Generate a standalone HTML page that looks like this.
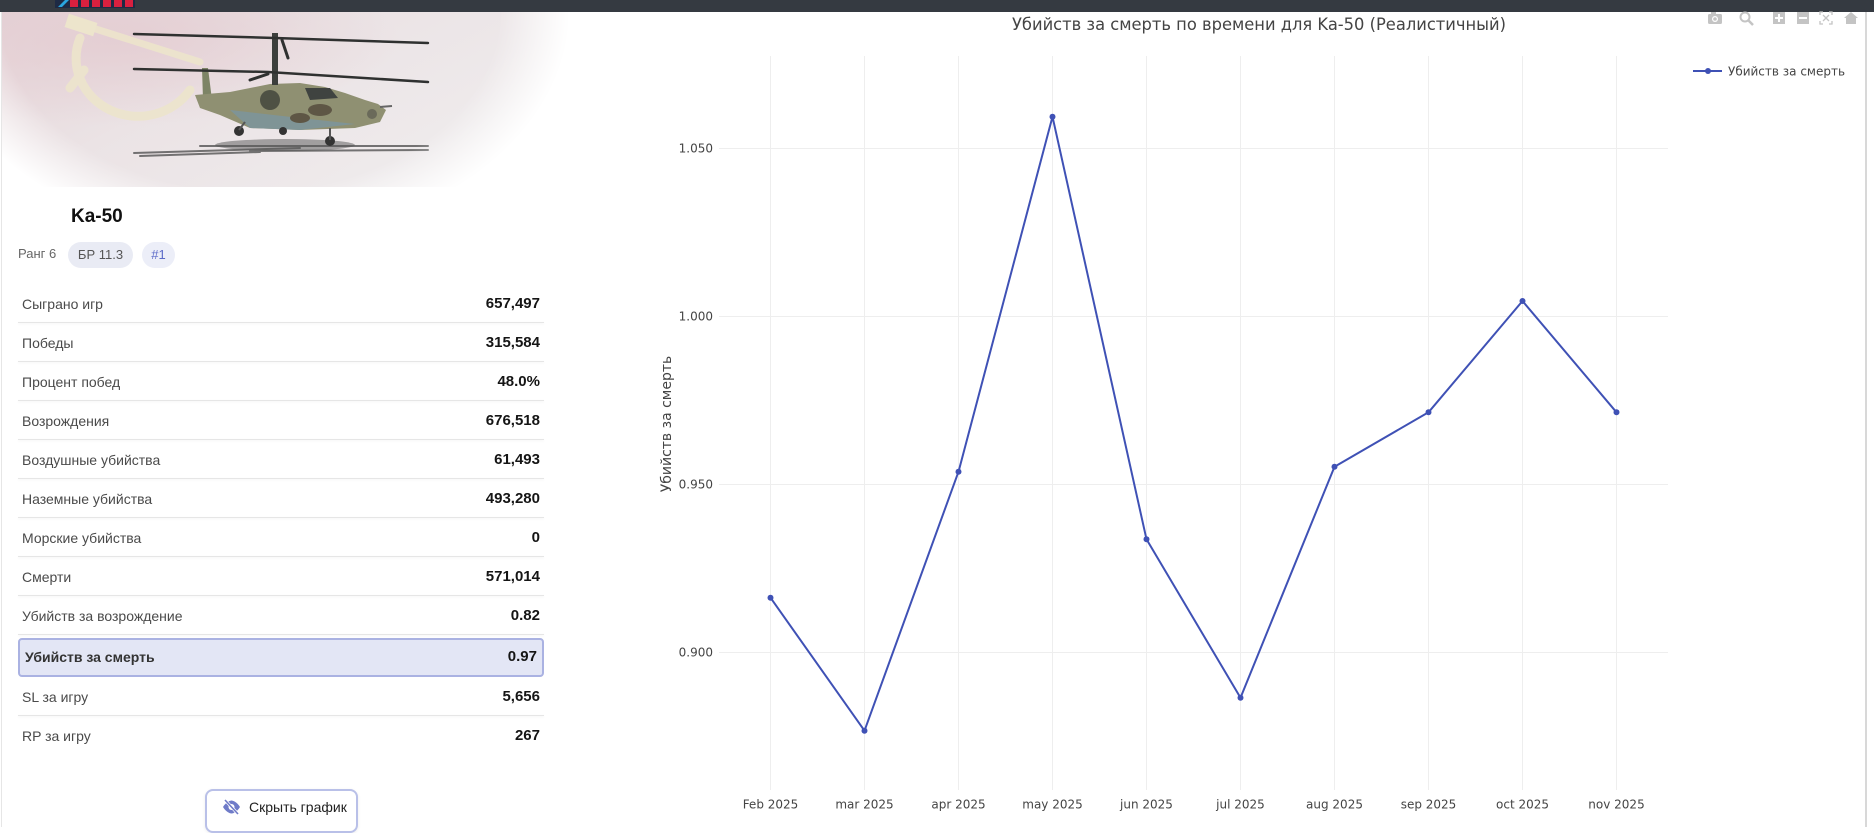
<!DOCTYPE html>
<html><head><meta charset="utf-8">
<style>
html,body{margin:0;padding:0;background:#fff;}
body{width:1874px;height:827px;overflow:hidden;position:relative;font-family:"Liberation Sans",Arial,sans-serif;}
.abs{position:absolute;}
.lbl{position:absolute;left:22px;font-size:14px;color:#4a4a4a;height:20px;line-height:20px;white-space:nowrap;}
.val{position:absolute;right:1334px;font-size:15px;font-weight:bold;color:#151515;height:20px;line-height:20px;text-align:right;white-space:nowrap;}
.sep{position:absolute;left:18px;width:526px;height:1px;background:#e6e6e6;box-shadow:0 1px 2px rgba(0,0,0,0.06);}
</style></head>
<body>

<!-- header image -->
<svg class="abs" style="left:0;top:0" width="570" height="190" viewBox="0 0 570 190">
  <defs>
    <radialGradient id="fade" gradientUnits="userSpaceOnUse" cx="250" cy="12" r="320" gradientTransform="translate(250 12) scale(1 0.72) translate(-250 -12)">
      <stop offset="0" stop-color="#fff"/>
      <stop offset="0.78" stop-color="#fff"/>
      <stop offset="1" stop-color="#000"/>
    </radialGradient>
    <mask id="m"><rect x="0" y="12" width="570" height="175" fill="url(#fade)"/></mask>
    <linearGradient id="bg" x1="0" y1="0" x2="1" y2="0.6">
      <stop offset="0" stop-color="#e5d3d7"/>
      <stop offset="0.45" stop-color="#ebe3e5"/>
      <stop offset="1" stop-color="#efeced"/>
    </linearGradient>
    <radialGradient id="pink" cx="0.2" cy="0.15" r="0.5">
      <stop offset="0" stop-color="#e4cdd2" stop-opacity="0.9"/>
      <stop offset="1" stop-color="#e4cdd2" stop-opacity="0"/>
    </radialGradient>
  </defs>
  <g mask="url(#m)">
    <rect x="2" y="12" width="566" height="175" fill="url(#bg)"/>
    <rect x="2" y="12" width="566" height="175" fill="url(#pink)"/>
    <!-- hammer & sickle -->
    <g fill="none" stroke="#ede5cc" stroke-linecap="round" opacity="0.9">
      <path d="M80 38 A62 58 0 0 0 190 90" stroke-width="9"/>
      <path d="M80 24 L200 62" stroke-width="7"/>
      <path d="M84 70 L70 88" stroke-width="9"/>
    </g>
    <rect x="66" y="18" width="30" height="14" fill="#ede5cc" transform="rotate(18 81 25)"/>
    <!-- shadow -->
    <g stroke="#4a4a4a" stroke-linecap="round" opacity="0.75">
      <line x1="134" y1="153" x2="300" y2="148" stroke-width="2"/>
      <line x1="200" y1="146" x2="428" y2="146" stroke-width="2"/>
      <line x1="250" y1="151" x2="428" y2="150" stroke-width="2"/>
      <line x1="140" y1="156" x2="260" y2="152" stroke-width="2"/>
    </g>
    <ellipse cx="285" cy="145" rx="70" ry="6" fill="#555" opacity="0.5"/>
    <!-- tail fin -->
    <polygon points="202,68 208,68 212,100 203,100" fill="#7d8466"/>
    <!-- body -->
    <polygon points="195,95 230,92 250,88 270,84 300,83 325,87 345,93 365,100 378,104 386,110 380,122 355,128 300,130 250,128 220,115 200,108" fill="#8f9072"/>
    <polygon points="230,110 300,118 355,124 300,130 250,128" fill="#7f9496"/>
    <ellipse cx="320" cy="110" rx="12" ry="6" fill="#5e5645"/>
    <ellipse cx="300" cy="118" rx="10" ry="5" fill="#5e5645"/>
    <ellipse cx="270" cy="100" rx="10" ry="10" fill="#4e5144"/>
    <polygon points="305,88 330,88 338,98 310,100" fill="#3f4340"/>
    <circle cx="372" cy="114" r="5" fill="#6a6a5a"/>
    <line x1="380" y1="107" x2="392" y2="106" stroke="#666" stroke-width="2"/>
    <!-- wheels -->
    <circle cx="239" cy="131" r="5" fill="#333"/>
    <circle cx="283" cy="131" r="4" fill="#333"/>
    <circle cx="330" cy="141" r="5" fill="#333"/>
    <line x1="245" y1="122" x2="239" y2="130" stroke="#555" stroke-width="2"/>
    <line x1="330" y1="128" x2="330" y2="140" stroke="#555" stroke-width="2"/>
    <!-- mast -->
    <rect x="272" y="33" width="6" height="52" fill="#3c3f3c"/>
    <!-- rotors -->
    <g stroke="#2f3130" stroke-linecap="round">
      <polyline points="134,34 275,38 428,43" fill="none" stroke-width="2.5"/>
      <polyline points="134,69 268,72 428,82" fill="none" stroke-width="2.5"/>
      <line x1="250" y1="80" x2="268" y2="74" stroke-width="3"/>
      <line x1="282" y1="40" x2="288" y2="58" stroke-width="3"/>
    </g>
  </g>
</svg>

<!-- top bar -->
<div class="abs" style="left:0;top:0;width:1874px;height:12px;background:#353a41;"></div>
<svg class="abs" style="left:55px;top:0" width="80" height="8" viewBox="0 0 80 8">
  <rect x="0" y="0" width="80" height="8" fill="#1e2a44"/>
  <polygon points="3,7 10,0 14,0 7,7" fill="#2aa6e0"/>
  <rect x="15" y="0" width="8" height="7" fill="#d9203f"/>
  <rect x="26" y="0" width="8" height="7" fill="#d9203f"/>
  <rect x="37" y="0" width="8" height="7" fill="#d9203f"/>
  <rect x="48" y="0" width="8" height="7" fill="#d9203f"/>
  <rect x="59" y="0" width="8" height="7" fill="#d9203f"/>
  <rect x="70" y="0" width="8" height="7" fill="#d9203f"/>
</svg>

<!-- left border -->
<div class="abs" style="left:1px;top:12px;width:1px;height:815px;background:#e6e6e6;"></div>

<!-- title & badges -->
<div class="abs" style="left:71px;top:205px;font-size:19px;font-weight:bold;color:#111;line-height:24px;">Ka-50</div>
<div class="abs" style="left:18px;top:245px;font-size:13px;color:#666;line-height:18px;">Ранг 6</div>
<div class="abs" style="left:68px;top:242px;width:65px;height:26px;border-radius:13px;background:#e9ebf4;font-size:13px;color:#555;line-height:26px;text-align:center;">БР 11.3</div>
<div class="abs" style="left:142px;top:242px;width:33px;height:26px;border-radius:13px;background:#eceef8;font-size:13px;color:#5c6bc8;line-height:26px;text-align:center;">#1</div>

<!-- stats rows -->
<div class="lbl" style="top:294px">Сыграно игр</div><div class="val" style="top:294px">657,497</div>
<div class="sep" style="top:322px"></div>
<div class="lbl" style="top:333px">Победы</div><div class="val" style="top:333px">315,584</div>
<div class="sep" style="top:361px"></div>
<div class="lbl" style="top:372px">Процент побед</div><div class="val" style="top:372px">48.0%</div>
<div class="sep" style="top:400px"></div>
<div class="lbl" style="top:411px">Возрождения</div><div class="val" style="top:411px">676,518</div>
<div class="sep" style="top:439px"></div>
<div class="lbl" style="top:450px">Воздушные убийства</div><div class="val" style="top:450px">61,493</div>
<div class="sep" style="top:478px"></div>
<div class="lbl" style="top:489px">Наземные убийства</div><div class="val" style="top:489px">493,280</div>
<div class="sep" style="top:517px"></div>
<div class="lbl" style="top:528px">Морские убийства</div><div class="val" style="top:528px">0</div>
<div class="sep" style="top:556px"></div>
<div class="lbl" style="top:567px">Смерти</div><div class="val" style="top:567px">571,014</div>
<div class="sep" style="top:595px"></div>
<div class="lbl" style="top:606px">Убийств за возрождение</div><div class="val" style="top:606px">0.82</div>
<div class="sep" style="top:634px"></div>
<div class="abs" style="left:18px;top:638px;width:522px;height:35px;background:#e3e6f5;border:2px solid #aab2e2;border-radius:4px;"></div>
<div class="lbl" style="top:647px;left:25px;font-weight:bold;color:#333;">Убийств за смерть</div><div class="val" style="top:647px;right:1337px;">0.97</div>
<div class="lbl" style="top:687px">SL за игру</div><div class="val" style="top:687px">5,656</div>
<div class="sep" style="top:715px"></div>
<div class="lbl" style="top:726px">RP за игру</div><div class="val" style="top:726px">267</div>

<!-- button -->
<div class="abs" style="left:205px;top:789px;width:149px;height:40px;border:2px solid #b9c0e8;border-radius:8px;background:#fff;box-shadow:0 1px 3px rgba(0,0,0,0.08);"></div>
<svg class="abs" style="left:222px;top:799px" width="19" height="16" viewBox="0 0 19 16">
  <path d="M1 8 C4 3 8 1.5 9.5 1.5 C11 1.5 15 3 18 8 C15 13 11 14.5 9.5 14.5 C8 14.5 4 13 1 8 Z" fill="#6f7bc8"/>
  <circle cx="9.5" cy="8" r="3" fill="#fff"/>
  <line x1="3" y1="1" x2="16" y2="15" stroke="#fff" stroke-width="3"/>
  <line x1="3" y1="1" x2="16" y2="15" stroke="#6f7bc8" stroke-width="1.6"/>
</svg>
<div class="abs" style="left:249px;top:798px;font-size:14px;color:#222;line-height:18px;">Скрыть график</div>

<!-- chart -->
<svg class="abs" style="left:0;top:0" width="1874" height="827" viewBox="0 0 1874 827" font-family="'DejaVu Sans', 'Liberation Sans', sans-serif">
  <g stroke="#eeeeee" stroke-width="1">
    <line x1="770.5" y1="56" x2="770.5" y2="790"/>
    <line x1="864.5" y1="56" x2="864.5" y2="790"/>
    <line x1="958.5" y1="56" x2="958.5" y2="790"/>
    <line x1="1052.5" y1="56" x2="1052.5" y2="790"/>
    <line x1="1146.5" y1="56" x2="1146.5" y2="790"/>
    <line x1="1240.5" y1="56" x2="1240.5" y2="790"/>
    <line x1="1334.5" y1="56" x2="1334.5" y2="790"/>
    <line x1="1428.5" y1="56" x2="1428.5" y2="790"/>
    <line x1="1522.5" y1="56" x2="1522.5" y2="790"/>
    <line x1="1616.5" y1="56" x2="1616.5" y2="790"/>
    <line x1="719" y1="148.5" x2="1668" y2="148.5"/>
    <line x1="719" y1="316.5" x2="1668" y2="316.5"/>
    <line x1="719" y1="484.5" x2="1668" y2="484.5"/>
    <line x1="719" y1="652.5" x2="1668" y2="652.5"/>
  </g>
  <g font-size="12" fill="#444" text-anchor="end">
    <text x="713" y="152.5">1.050</text>
    <text x="713" y="320.5">1.000</text>
    <text x="713" y="488.5">0.950</text>
    <text x="713" y="656.5">0.900</text>
  </g>
  <g font-size="12" fill="#444" text-anchor="middle">
    <text x="770.5" y="808.5">Feb 2025</text>
    <text x="864.5" y="808.5">mar 2025</text>
    <text x="958.5" y="808.5">apr 2025</text>
    <text x="1052.5" y="808.5">may 2025</text>
    <text x="1146.5" y="808.5">jun 2025</text>
    <text x="1240.5" y="808.5">jul 2025</text>
    <text x="1334.5" y="808.5">aug 2025</text>
    <text x="1428.5" y="808.5">sep 2025</text>
    <text x="1522.5" y="808.5">oct 2025</text>
    <text x="1616.5" y="808.5">nov 2025</text>
  </g>
  <text x="1012" y="30" font-size="17" fill="#444" textLength="494" lengthAdjust="spacingAndGlyphs">Убийств за смерть по времени для Ka-50 (Реалистичный)</text>
  <text transform="translate(671 424) rotate(-90)" font-size="14" fill="#444" text-anchor="middle">Убийств за смерть</text>
  <polyline fill="none" stroke="#3f51b5" stroke-width="2" stroke-linejoin="round"
    points="770.5,597.7 864.5,730.7 958.5,471.7 1052.5,116.7 1146.5,539.3 1240.5,697.7 1334.5,466.7 1428.5,412.3 1522.5,301 1616.5,412.3"/>
  <g fill="#3f51b5">
    <circle cx="770.5" cy="597.7" r="3"/>
    <circle cx="864.5" cy="730.7" r="3"/>
    <circle cx="958.5" cy="471.7" r="3"/>
    <circle cx="1052.5" cy="116.7" r="3"/>
    <circle cx="1146.5" cy="539.3" r="3"/>
    <circle cx="1240.5" cy="697.7" r="3"/>
    <circle cx="1334.5" cy="466.7" r="3"/>
    <circle cx="1428.5" cy="412.3" r="3"/>
    <circle cx="1522.5" cy="301" r="3"/>
    <circle cx="1616.5" cy="412.3" r="3"/>
  </g>
  <!-- legend -->
  <line x1="1693" y1="71" x2="1722" y2="71" stroke="#3f51b5" stroke-width="2"/>
  <circle cx="1708" cy="71" r="3" fill="#3f51b5"/>
  <text x="1728" y="75.5" font-size="12" fill="#444">Убийств за смерть</text>
  <!-- modebar -->
  <g fill="#c4c4c4">
    <rect x="1708" y="14" width="14" height="10" rx="1.5"/>
    <rect x="1711" y="12" width="5" height="3"/>
    <circle cx="1715" cy="19" r="3" fill="#fff"/>
    <circle cx="1715" cy="19" r="1.8"/>
    <circle cx="1745" cy="17" r="4.5" fill="none" stroke="#c4c4c4" stroke-width="2"/>
    <line x1="1748" y1="20" x2="1753" y2="25" stroke="#c4c4c4" stroke-width="2.5"/>
    <rect x="1773" y="12" width="12" height="12"/>
    <rect x="1797" y="12" width="12" height="12"/>
    <polygon points="1851,12 1858,18 1856,18 1856,24 1846,24 1846,18 1844,18"/>
  </g>
  <g stroke="#fff" stroke-width="2">
    <line x1="1775" y1="18" x2="1783" y2="18"/>
    <line x1="1779" y1="14" x2="1779" y2="22"/>
    <line x1="1799" y1="18" x2="1807" y2="18"/>
  </g>
  <g stroke="#c4c4c4" stroke-width="1.3" fill="none">
    <polyline points="1820,15 1820,12 1823,12"/>
    <polyline points="1829,12 1832,12 1832,15"/>
    <polyline points="1820,21 1820,24 1823,24"/>
    <polyline points="1829,24 1832,24 1832,21"/>
    <line x1="1823" y1="15" x2="1829" y2="21"/>
    <line x1="1829" y1="15" x2="1823" y2="21"/>
  </g>
  <!-- right edge -->
  <rect x="1865" y="12" width="2" height="815" fill="#d8d8d8"/>
</svg>

</body></html>
